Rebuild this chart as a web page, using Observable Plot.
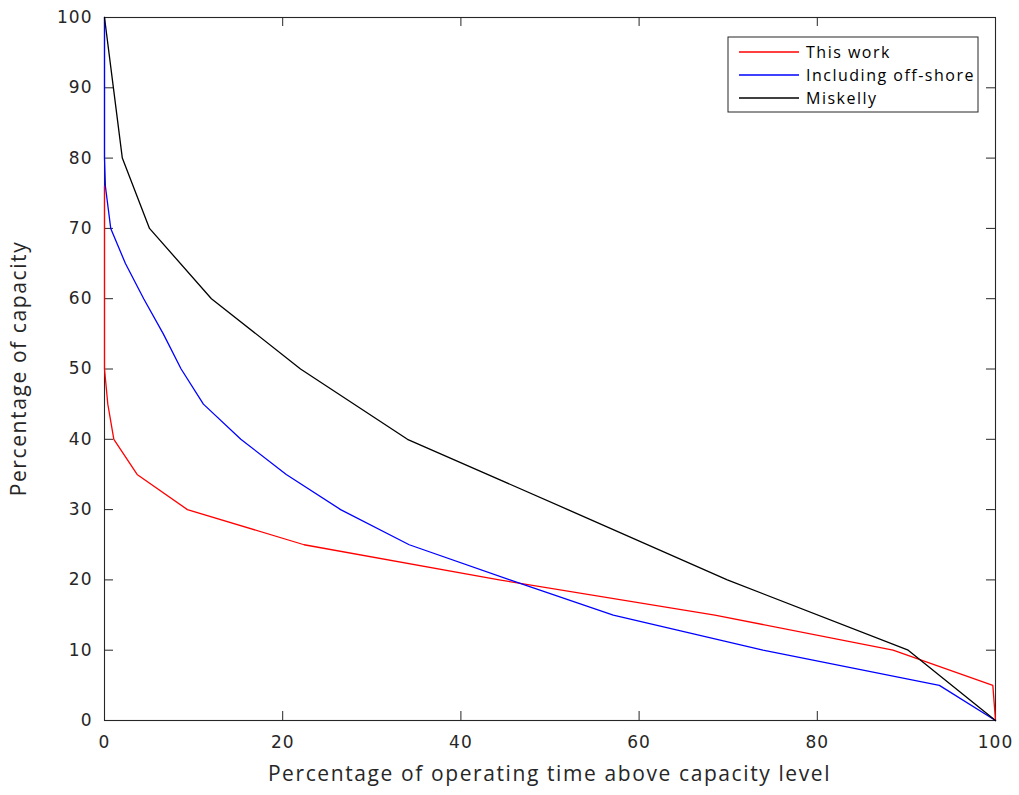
<!DOCTYPE html>
<html>
<head>
<meta charset="utf-8">
<script src="https://cdn.jsdelivr.net/npm/d3@7"></script>
<script src="https://cdn.jsdelivr.net/npm/@observablehq/plot@0.6"></script>
<style>
  html, body { margin: 0; padding: 0; background: #fff; }
  #chart { width: 1019px; height: 795px; }
</style>
</head>
<body>
<div id="chart"></div>
<script>
// Capacity duration curves: % of operating time (x) spent above each capacity level (y)
const seriesNames = ["This work", "Including off-shore", "Miskelly"];
const seriesColors = ["#ff0000", "#0000ff", "#000000"];

const thisWorkTime     = [0, 0, 0, 0, 0.37, 1.05, 3.66, 9.3, 22.4, 44.3, 68.5, 88.5, 99.7, 100];
const thisWorkCapacity = [76, 70, 60, 50, 45, 40, 35, 30, 25, 20, 15, 10, 5, 0];

const offshoreTime     = [0, 0, 0, 0.1, 0.7, 2.35, 4.4, 6.6, 8.6, 11.1, 15.3, 20.4, 26.5, 34.2, 45.5, 57.1, 73.9, 93.7, 100];
const offshoreCapacity = [100, 90, 80, 76, 70, 65, 60, 55, 50, 45, 40, 35, 30, 25, 20, 15, 10, 5, 0];

const miskellyTime     = [0, 1.0, 2.0, 5.05, 12.0, 22.0, 34.0, 52.0, 69.9, 90.2, 100];
const miskellyCapacity = [100, 90, 80, 70, 60, 50, 40, 30, 20, 10, 0];

const xTicks = [0, 20, 40, 60, 80, 100];
const yTicks = [0, 10, 20, 30, 40, 50, 60, 70, 80, 90, 100];

const xLabel = "Percentage of operating time above capacity level";
const yLabel = "Percentage of capacity";

const rows = [
  ...thisWorkTime.map((t, i) => ({series: seriesNames[0], time: t, capacity: thisWorkCapacity[i]})),
  ...offshoreTime.map((t, i) => ({series: seriesNames[1], time: t, capacity: offshoreCapacity[i]})),
  ...miskellyTime.map((t, i) => ({series: seriesNames[2], time: t, capacity: miskellyCapacity[i]}))
];

const W = 1019, H = 795;
const M = {top: 17, right: 24, bottom: 75, left: 104};
const innerW = W - M.left - M.right;
const innerH = H - M.top - M.bottom;
const tickLen = 9;
const ink = "#262626";

const chart = Plot.plot({
  width: W,
  height: H,
  marginTop: M.top,
  marginRight: M.right,
  marginBottom: M.bottom,
  marginLeft: M.left,
  style: {fontFamily: "'DejaVu Sans', sans-serif", fontSize: "17px", color: ink, background: "#fff", letterSpacing: "1px"},
  x: {domain: [0, 100]},
  y: {domain: [0, 100]},
  color: {domain: seriesNames, range: seriesColors},
  marks: [
    Plot.frame({stroke: ink, strokeWidth: 1.1}),
    // inward ticks on all four sides
    Plot.ruleX(xTicks, {insetTop: innerH - tickLen, stroke: ink}),
    Plot.ruleX(xTicks, {insetBottom: innerH - tickLen, stroke: ink}),
    Plot.ruleY(yTicks, {insetRight: innerW - tickLen, stroke: ink}),
    Plot.ruleY(yTicks, {insetLeft: innerW - tickLen, stroke: ink}),
    Plot.axisX(xTicks, {tickSize: 0, tickPadding: 15, label: null, fontSize: 17}),
    Plot.axisY(yTicks, {tickSize: 0, tickPadding: 12, label: null, fontSize: 17}),
    Plot.line(rows, {x: "time", y: "capacity", z: "series", stroke: "series", strokeWidth: 1.3, curve: "linear"})
  ]
});

const svg = d3.select(chart);
const titleStyle = (sel) => sel
  .attr("text-anchor", "middle")
  .style("font", "21px 'Open Sans'")
  .style("letter-spacing", "1.6px")
  .style("fill", ink);

// axis titles
svg.append("text")
  .attr("x", M.left + innerW / 2).attr("y", H - 14)
  .call(titleStyle)
  .text(xLabel);
svg.append("text")
  .attr("transform", `translate(26,${M.top + innerH / 2}) rotate(-90)`)
  .call(titleStyle)
  .text(yLabel);

// legend box in the upper right corner
const lg = svg.append("g").attr("transform", "translate(728,37)");
lg.append("rect").attr("width", 250).attr("height", 75)
  .attr("fill", "#fff").attr("stroke", ink).attr("stroke-width", 1);
seriesNames.forEach((name, i) => {
  const y = 15 + i * 23;
  lg.append("line").attr("x1", 11).attr("x2", 71).attr("y1", y).attr("y2", y)
    .attr("stroke", seriesColors[i]).attr("stroke-width", 1.3);
  lg.append("text").attr("x", 78).attr("y", y).attr("dy", "0.35em")
    .attr("text-anchor", "start")
    .style("font", "16px 'Open Sans'").style("letter-spacing", "1.5px").style("fill", "#000")
    .text(name);
});

document.getElementById("chart").appendChild(chart);
</script>
</body>
</html>
